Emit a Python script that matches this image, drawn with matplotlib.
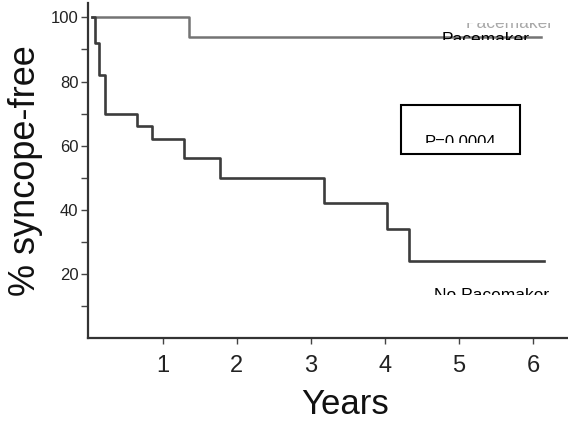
import matplotlib
matplotlib.use("Agg")
import matplotlib.pyplot as plt
from matplotlib import font_manager
from matplotlib.patches import Rectangle

# ---- data ----
years_ticks = [1, 2, 3, 4, 5, 6]
pct_ticks = [20, 40, 60, 80, 100]
pct_minor = [10, 30, 50, 70, 90]

pm_times = [0.04, 1.35, 6.10]
pm_surv = [100, 94, 94]

no_pm_times = [0.04, 0.08, 0.14, 0.22, 0.65, 0.85, 1.28, 1.77, 3.18, 4.03, 4.32, 6.14]
no_pm_surv = [100, 92, 82, 70, 66, 62, 56, 50, 42, 34, 24, 24]

label_pm = "Pacemaker"
label_nopm = "No Pacemaker"
p_text = "P=0.0004"

# ---- fonts ----
names = {f.name for f in font_manager.fontManager.ttflist}
narrow = "Liberation Sans Narrow" if "Liberation Sans Narrow" in names else "Liberation Sans"
regular = "Liberation Sans"

W, H = 568, 425
fig = plt.figure(figsize=(W / 100, H / 100), dpi=100)
fig.patch.set_facecolor("white")

def fx(px):
    return px / W

def fy(py):
    return 1 - py / H

ax_left, ax_right, ax_top, ax_bottom = 88, 568, 3, 338
ax = fig.add_axes([fx(ax_left), fy(ax_bottom), fx(ax_right - ax_left), (ax_bottom - ax_top) / H])
ax.set_xlim(-0.01, 6.47)
ax.set_ylim(0, 104.5)

ax.step(pm_times, pm_surv, where="post", color="#747474", lw=1.8)
ax.step(no_pm_times, no_pm_surv, where="post", color="#3c3c3c", lw=1.9)

for s in ["top", "right"]:
    ax.spines[s].set_visible(False)
for s in ["left", "bottom"]:
    ax.spines[s].set_color("#333333")
    ax.spines[s].set_linewidth(1.6)

ax.set_xticks(years_ticks)
ax.set_xticklabels([str(v) for v in years_ticks], fontsize=17, family=narrow, color="#222222")
ax.set_yticks(pct_ticks)
ax.set_yticks(pct_minor, minor=True)
ax.set_yticklabels([str(v) for v in pct_ticks], fontsize=12, family=regular, color="#222222")
ax.tick_params(axis="x", direction="out", length=4, width=1, pad=8, colors="#444444", labelcolor="#222222")
ax.tick_params(axis="y", which="major", direction="out", length=5, width=1, pad=2, colors="#444444", labelcolor="#222222")
ax.tick_params(axis="y", which="minor", direction="out", length=5, width=1, colors="#444444")

ax.set_xlabel("Years", fontsize=25, family=narrow, color="#111111")
ax.xaxis.set_label_coords((345 - ax_left) / (ax_right - ax_left), -(405 - ax_bottom) / (ax_bottom - ax_top))
ax.xaxis.label.set_verticalalignment("center")
ax.set_ylabel("% syncope-free", fontsize=26, family=narrow, color="#111111")
ax.yaxis.set_label_coords(-(ax_left - 26) / (ax_right - ax_left), (ax_bottom - 171) / (ax_bottom - ax_top))
ax.yaxis.label.set_verticalalignment("center")

# faint original label partly hidden at top right
fig.text(fx(466), fy(28), label_pm, fontsize=12.5, family=regular, color="#a8a8a8", va="baseline", ha="left", zorder=5)
fig.add_artist(Rectangle((fx(445), fy(23)), fx(W - 445), 23 / H, transform=fig.transFigure,
                         facecolor="white", edgecolor="none", zorder=10))

# Pacemaker label (clipped)
fig.text(fx(486), fy(44), label_pm, fontsize=12.5, family=regular, color="black", va="baseline", ha="center", zorder=5)
fig.add_artist(Rectangle((fx(436), fy(49)), fx(100), 9 / H, transform=fig.transFigure,
                         facecolor="white", edgecolor="none", zorder=10))

# No Pacemaker label (clipped)
fig.text(fx(492), fy(300), label_nopm, fontsize=12.5, family=regular, color="black", va="baseline", ha="center", zorder=5)
fig.add_artist(Rectangle((fx(428), fy(306)), fx(130), 11 / H, transform=fig.transFigure,
                         facecolor="white", edgecolor="none", zorder=10))

# P value box
fig.add_artist(Rectangle((fx(401), fy(154)), fx(119), 49 / H, transform=fig.transFigure,
                         facecolor="white", edgecolor="black", lw=1.5, zorder=4))
fig.text(fx(460), fy(147), p_text, fontsize=12, family=regular, color="black", va="baseline", ha="center", zorder=5)
fig.add_artist(Rectangle((fx(403), fy(152)), fx(115), 9 / H, transform=fig.transFigure,
                         facecolor="white", edgecolor="none", zorder=10))

fig.savefig("out.png", dpi=100)
